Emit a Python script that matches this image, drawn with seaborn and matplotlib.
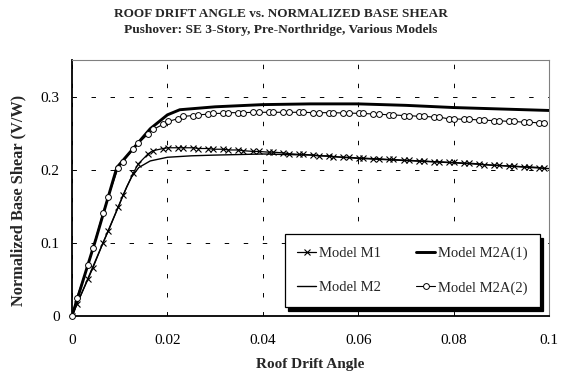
import matplotlib
matplotlib.use("Agg")
import matplotlib.pyplot as plt
import seaborn as sns
import pandas as pd

# ---- data ----
drift_m = [0, 0.001, 0.0034, 0.0044, 0.0065, 0.0076, 0.0097, 0.0107, 0.0128, 0.0139,
           0.0160, 0.0170, 0.0191, 0.0202, 0.0223, 0.0233, 0.0254, 0.0265, 0.0286, 0.0296,
           0.0317, 0.0328, 0.0349, 0.0359, 0.0380, 0.0391, 0.0412, 0.0422, 0.0443, 0.0454,
           0.0475, 0.0485, 0.0506, 0.0517, 0.0538, 0.0548, 0.0569, 0.0580, 0.0601, 0.0611,
           0.0632, 0.0643, 0.0664, 0.0674, 0.0695, 0.0706, 0.0727, 0.0737, 0.0758, 0.0769,
           0.0790, 0.0800, 0.0821, 0.0832, 0.0853, 0.0863, 0.0884, 0.0895, 0.0916, 0.0926,
           0.0947, 0.0958, 0.0979, 0.0989]

m1_shear = [0, 0.016, 0.051, 0.066, 0.100, 0.116, 0.149, 0.165, 0.195, 0.208,
            0.222, 0.226, 0.229, 0.230, 0.230, 0.230, 0.230, 0.229, 0.229, 0.228,
            0.228, 0.227, 0.227, 0.226, 0.225, 0.225, 0.224, 0.224, 0.223, 0.222,
            0.221, 0.221, 0.220, 0.219, 0.219, 0.218, 0.217, 0.217, 0.216, 0.216,
            0.215, 0.215, 0.214, 0.214, 0.213, 0.213, 0.212, 0.212, 0.211, 0.211,
            0.210, 0.210, 0.209, 0.209, 0.208, 0.207, 0.206, 0.206, 0.205, 0.205,
            0.204, 0.204, 0.203, 0.202]

m2a2_shear = [0, 0.025, 0.070, 0.093, 0.141, 0.163, 0.203, 0.211, 0.228, 0.236,
              0.249, 0.255, 0.262, 0.266, 0.270, 0.273, 0.274, 0.275, 0.276, 0.277,
              0.277, 0.278, 0.278, 0.278, 0.2785, 0.2785, 0.2785, 0.2785, 0.2785, 0.2785,
              0.2785, 0.2785, 0.278, 0.278, 0.278, 0.278, 0.2775, 0.2775, 0.277, 0.277,
              0.276, 0.276, 0.275, 0.275, 0.274, 0.274, 0.273, 0.273, 0.272, 0.272,
              0.2695, 0.2695, 0.269, 0.269, 0.268, 0.268, 0.267, 0.267, 0.266, 0.266,
              0.265, 0.265, 0.264, 0.264]

drift_m2 = [0, 0.0065, 0.0115, 0.0125, 0.014, 0.0164, 0.020, 0.025, 0.030, 0.040,
            0.050, 0.060, 0.070, 0.080, 0.090, 0.100]
m2_shear = [0, 0.100, 0.177, 0.190, 0.203, 0.212, 0.217, 0.219, 0.220, 0.2215,
            0.220, 0.2155, 0.2125, 0.2095, 0.2055, 0.2015]

drift_m2a1 = [0, 0.005, 0.0094, 0.0164, 0.020, 0.0226, 0.030, 0.040, 0.050, 0.060,
              0.070, 0.080, 0.090, 0.100]
m2a1_shear = [0, 0.105, 0.203, 0.256, 0.275, 0.282, 0.286, 0.289, 0.290, 0.290,
              0.288, 0.285, 0.283, 0.281]

x_ticks = [0, 0.02, 0.04, 0.06, 0.08, 0.1]
x_tick_labels = ["0", "0.02", "0.04", "0.06", "0.08", "0.1"]
y_ticks = [0, 0.1, 0.2, 0.3]
y_tick_labels = ["0", "0.1", "0.2", "0.3"]

# ---- style ----
sns.set_style("white")
plt.rcParams["font.family"] = ["Liberation Serif", "DejaVu Serif"]
plt.rcParams["lines.scale_dashes"] = False

fig = plt.figure(figsize=(5.61, 3.74), dpi=100)
ax = fig.add_axes([72 / 561, 58 / 374, 477 / 561, 256 / 374])

df_m1 = pd.DataFrame({"x": drift_m, "y": m1_shear})
df_m2 = pd.DataFrame({"x": drift_m2, "y": m2_shear})
df_a1 = pd.DataFrame({"x": drift_m2a1, "y": m2a1_shear})
df_a2 = pd.DataFrame({"x": drift_m, "y": m2a2_shear})

sns.lineplot(data=df_m1, x="x", y="y", ax=ax, sort=False, color="black", lw=0.9,
             marker="x", markersize=5, markeredgewidth=0.8, markeredgecolor="black",
             label="Model M1", zorder=4)
sns.lineplot(data=df_m2, x="x", y="y", ax=ax, sort=False, color="black", lw=1.0,
             label="Model M2", zorder=3)
sns.lineplot(data=df_a1, x="x", y="y", ax=ax, sort=False, color="black", lw=2.1,
             label="Model M2A(1)", zorder=3)
sns.lineplot(data=df_a2, x="x", y="y", ax=ax, sort=False, color="black", lw=0.8,
             marker="o", markersize=4.2, markerfacecolor="white", markeredgecolor="black",
             markeredgewidth=0.7, label="Model M2A(2)", zorder=5, clip_on=False)

ax.set_xlim(0, 0.1)
ax.set_ylim(0, 0.35)
ax.set_xticks(x_ticks)
ax.set_xticklabels(x_tick_labels)
ax.set_yticks(y_ticks)
ax.set_yticklabels(y_tick_labels)
ax.tick_params(axis="both", direction="inout", length=6, width=0.8, colors="black",
               labelsize=11, pad=10)
ax.tick_params(axis="y", pad=6)

ax.grid(True, color="black", lw=0.7, linestyle=(0, (3.2, 10.5)))
ax.set_axisbelow(True)

for s in ["left", "bottom"]:
    ax.spines[s].set_color("black")
    ax.spines[s].set_linewidth(1.3)
for s in ["top", "right"]:
    ax.spines[s].set_color("#808080")
    ax.spines[s].set_linewidth(0.8)

ax.set_xlabel("Roof Drift Angle", fontsize=11, fontweight="bold", labelpad=8)
ax.set_ylabel("Normalized Base Shear (V/W)", fontsize=11.8, fontweight="bold")
ax.yaxis.set_label_coords(-(72 - 26) / 477, (316 - 200) / 256)

fig.text(0.5, 1 - 14 / 374, "ROOF DRIFT ANGLE vs. NORMALIZED BASE SHEAR",
         ha="center", va="center", fontsize=9.5, fontweight="bold")
fig.text(0.5, 1 - 30 / 374, "Pushover: SE 3-Story, Pre-Northridge, Various Models",
         ha="center", va="center", fontsize=9.6, fontweight="bold")

h, l = ax.get_legend_handles_labels()
order = [l.index(n) for n in ["Model M1", "Model M2", "Model M2A(1)", "Model M2A(2)"]]
leg = ax.legend([h[i] for i in order], [l[i] for i in order], ncol=2,
                loc="lower right", bbox_to_anchor=(0.981, 0.035),
                fontsize=10.5, frameon=True, fancybox=False, framealpha=1,
                edgecolor="black", shadow={"color": "black", "alpha": 1, "ox": 2.5, "oy": -2.5},
                handlelength=1.3, handletextpad=0.2, labelspacing=1.45,
                columnspacing=2.4, borderpad=0.85, borderaxespad=0)
leg.get_frame().set_linewidth(0.9)
leg.set_zorder(10)

fig.savefig("out.png", dpi=100)
